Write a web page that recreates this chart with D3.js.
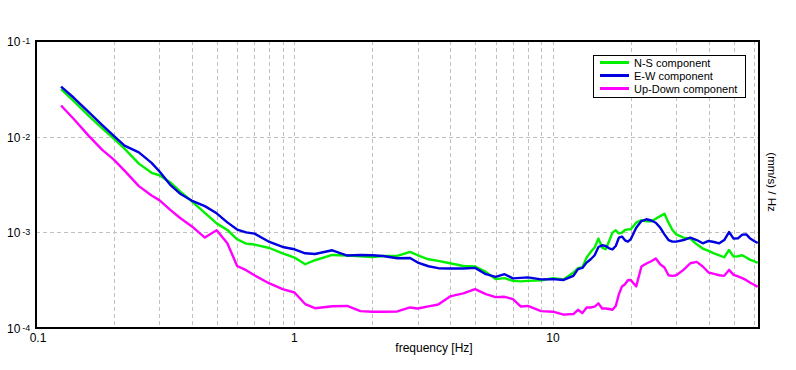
<!DOCTYPE html>
<html>
<head>
<meta charset="utf-8">
<script src="https://cdn.jsdelivr.net/npm/d3@7"></script>
<style>
  html, body { margin: 0; padding: 0; background: #ffffff; }
  svg { display: block; font-family: "Liberation Sans", Arial, sans-serif; }
</style>
</head>
<body>
<svg id="chart" width="796" height="370"></svg>
<script>
// ---- data ----
const freqs = [0.125, 0.14, 0.16, 0.18, 0.2, 0.22, 0.25, 0.28, 0.3, 0.33,
  0.36, 0.4, 0.45, 0.5, 0.55, 0.6, 0.65, 0.7, 0.8, 0.9,
  1.0, 1.1, 1.2, 1.4, 1.6, 1.8, 2.0, 2.2, 2.5, 2.8,
  3.0, 3.3, 3.6, 4.0, 4.5, 5.0, 5.5, 6.0, 6.5, 7.0,
  7.5, 8.0, 9.0, 10, 11, 12, 12.5, 13, 13.5, 14,
  14.5, 15, 15.5, 16, 16.5, 17, 17.5, 18, 18.5, 19,
  19.5, 20, 21, 22, 23, 24, 25, 26, 27, 28,
  29, 30, 32, 34, 36, 38, 40, 42, 44, 46,
  48, 50, 52, 54, 56, 58, 60, 62];

const nsValues = [0.0314, 0.0235, 0.0165, 0.0123, 0.00953, 0.0075, 0.00523, 0.00419, 0.00395, 0.00334,
  0.00269, 0.00212, 0.0016, 0.00124, 0.00106, 8.46e-4, 7.63e-4, 7.45e-4, 6.86e-4, 6.04e-4,
  5.45e-4, 4.64e-4, 5.11e-4, 5.80e-4, 5.72e-4, 5.62e-4, 5.53e-4, 5.65e-4, 5.66e-4, 6.24e-4,
  5.76e-4, 5.23e-4, 5.03e-4, 4.75e-4, 4.45e-4, 4.39e-4, 3.86e-4, 3.24e-4, 3.32e-4, 3.11e-4,
  3.07e-4, 3.11e-4, 3.15e-4, 3.32e-4, 3.22e-4, 3.80e-4, 4.22e-4, 4.32e-4, 5.45e-4, 6.24e-4,
  6.93e-4, 8.60e-4, 6.93e-4, 6.65e-4, 8.12e-4, 9.93e-4, 1.049e-3, 9.76e-4, 9.93e-4, 1.057e-3,
  1.075e-3, 1.075e-3, 1.262e-3, 1.343e-3, 1.302e-3, 1.302e-3, 1.389e-3, 1.478e-3, 1.566e-3, 1.262e-3,
  1.057e-3, 9.53e-4, 8.81e-4, 8.60e-4, 7.50e-4, 6.76e-4, 6.39e-4, 6.04e-4, 5.76e-4, 5.49e-4,
  6.54e-4, 5.58e-4, 5.62e-4, 5.76e-4, 5.45e-4, 5.15e-4, 4.99e-4, 4.79e-4];

const ewValues = [0.0334, 0.0255, 0.0181, 0.0133, 0.0102, 0.00806, 0.00686, 0.00532, 0.00435, 0.00316,
  0.00255, 0.00215, 0.00188, 0.00158, 0.00127, 0.00107, 0.00100, 9.69e-4, 7.93e-4, 7.03e-4,
  6.65e-4, 6.04e-4, 5.94e-4, 6.49e-4, 5.72e-4, 5.80e-4, 5.76e-4, 5.66e-4, 5.36e-4, 5.40e-4,
  4.83e-4, 4.42e-4, 4.22e-4, 4.19e-4, 4.19e-4, 4.25e-4, 3.65e-4, 3.42e-4, 3.65e-4, 3.30e-4,
  3.34e-4, 3.38e-4, 3.22e-4, 3.24e-4, 3.18e-4, 3.51e-4, 4.12e-4, 4.25e-4, 4.83e-4, 5.23e-4,
  5.76e-4, 7.03e-4, 7.32e-4, 7.20e-4, 6.81e-4, 6.65e-4, 7.20e-4, 8.81e-4, 9.02e-4, 8.25e-4,
  8.00e-4, 8.46e-4, 1.119e-3, 1.31e-3, 1.37e-3, 1.33e-3, 1.26e-3, 1.12e-3, 9.53e-4, 8.31e-4,
  8.00e-4, 8.00e-4, 8.31e-4, 8.81e-4, 8.31e-4, 7.68e-4, 8.12e-4, 7.93e-4, 7.68e-4, 8.31e-4,
  1.007e-3, 8.60e-4, 8.66e-4, 9.46e-4, 9.53e-4, 8.60e-4, 8.12e-4, 7.74e-4];

const udValues = [0.0212, 0.0153, 0.0102, 0.00732, 0.00576, 0.00442, 0.00304, 0.00243, 0.00217, 0.00173,
  0.00142, 0.00116, 8.81e-4, 1.049e-3, 7.68e-4, 4.45e-4, 4.02e-4, 3.56e-4, 2.92e-4, 2.55e-4,
  2.35e-4, 1.78e-4, 1.61e-4, 1.69e-4, 1.70e-4, 1.50e-4, 1.48e-4, 1.48e-4, 1.49e-4, 1.64e-4,
  1.60e-4, 1.68e-4, 1.76e-4, 2.14e-4, 2.30e-4, 2.55e-4, 2.26e-4, 2.10e-4, 2.12e-4, 2.00e-4,
  1.68e-4, 1.70e-4, 1.50e-4, 1.48e-4, 1.38e-4, 1.40e-4, 1.55e-4, 1.43e-4, 1.64e-4, 1.64e-4,
  1.67e-4, 1.81e-4, 1.60e-4, 1.60e-4, 1.58e-4, 1.55e-4, 1.70e-4, 2.26e-4, 2.72e-4, 2.87e-4,
  3.16e-4, 3.18e-4, 2.72e-4, 4.39e-4, 4.72e-4, 4.99e-4, 5.32e-4, 4.64e-4, 4.29e-4, 3.56e-4,
  3.51e-4, 3.56e-4, 4.05e-4, 4.75e-4, 4.91e-4, 4.39e-4, 3.80e-4, 3.68e-4, 3.56e-4, 3.51e-4,
  4.05e-4, 3.59e-4, 3.46e-4, 3.32e-4, 3.16e-4, 2.97e-4, 2.83e-4, 2.69e-4];

const seriesNames = ["N-S component", "E-W component", "Up-Down component"];
const seriesColors = ["#00f000", "#0000e0", "#ff00ff"];

const xTickValues = [0.1, 1, 10];
const xTickLabels = ["0.1", "1", "10"];
const yTickValues = [1e-1, 1e-2, 1e-3, 1e-4];
const yTickExponents = ["-1", "-2", "-3", "-4"];
const xGridValues = [0.2, 0.3, 0.4, 0.5, 0.6, 0.7, 0.8, 0.9, 1, 2, 3, 4, 5, 6, 7, 8, 9, 10, 20, 30, 40, 50, 60];
const yGridValues = [1e-2, 1e-3];

const xLabel = "frequency [Hz]";
const yLabel = "(mm/s) / Hz";

// ---- layout ----
const L = 36, R = 759, T = 41, B = 328;
const svg = d3.select("#chart");

const x = d3.scaleLog().domain([0.1, 62.7]).range([L, R]);
const y = d3.scaleLog().domain([1e-4, 1e-1]).range([B, T]);

svg.append("rect").attr("x", 0).attr("y", 0).attr("width", 796).attr("height", 370).attr("fill", "#fff");

// grid
const grid = svg.append("g").attr("stroke", "#c0c0c0").attr("stroke-width", 1).attr("stroke-dasharray", "4,3");
grid.selectAll("line.vx").data(xGridValues).enter().append("line")
  .attr("x1", d => Math.round(x(d)) + 0.5).attr("x2", d => Math.round(x(d)) + 0.5)
  .attr("y1", T).attr("y2", B);
grid.selectAll("line.hy").data(yGridValues).enter().append("line")
  .attr("x1", L).attr("x2", R)
  .attr("y1", d => Math.round(y(d)) + 0.5).attr("y2", d => Math.round(y(d)) + 0.5);

// clip
svg.append("clipPath").attr("id", "plotclip").append("rect")
  .attr("x", L).attr("y", T).attr("width", R - L).attr("height", B - T);

const seriesValues = [nsValues, ewValues, udValues];
const line = d3.line().x(d => x(d[0])).y(d => y(d[1]));
const plot = svg.append("g").attr("clip-path", "url(#plotclip)");
seriesValues.forEach((vals, i) => {
  plot.append("path")
    .datum(freqs.map((f, k) => [f, vals[k]]))
    .attr("fill", "none")
    .attr("stroke", seriesColors[i])
    .attr("stroke-width", 2.4)
    .attr("stroke-linejoin", "round")
    .attr("d", line);
});

// frame
svg.append("rect").attr("x", L).attr("y", T).attr("width", R - L).attr("height", B - T)
  .attr("fill", "none").attr("stroke", "#000").attr("stroke-width", 2);

// y tick labels
const yt = svg.append("g").attr("font-size", 12).attr("fill", "#000");
yTickValues.forEach((v, i) => {
  const t = yt.append("text").attr("x", 7).attr("y", y(v) + 5);
  t.append("tspan").text("10");
  t.append("tspan").attr("dx", 2).attr("dy", -2).attr("font-size", 9).text(yTickExponents[i]);
});

// x tick labels
svg.append("g").selectAll("text").data(xTickValues).enter().append("text")
  .attr("x", (d, i) => x(d) + (i === 0 ? 2 : 0)).attr("y", 342)
  .attr("text-anchor", "middle").attr("font-size", 12).attr("fill", "#000")
  .text((d, i) => xTickLabels[i]);

// axis titles
svg.append("text").attr("x", 434).attr("y", 352).attr("text-anchor", "middle")
  .attr("font-size", 12).attr("fill", "#000").text(xLabel);
svg.append("text").attr("transform", "translate(768,182) rotate(90)")
  .attr("text-anchor", "middle").attr("font-size", 11.5).attr("fill", "#000").text(yLabel);

// legend
const lg = svg.append("g");
lg.append("rect").attr("x", 593.5).attr("y", 55.5).attr("width", 152).attr("height", 42)
  .attr("fill", "#fff").attr("stroke", "#000").attr("stroke-width", 1);
seriesNames.forEach((name, i) => {
  const ly = 62.5 + i * 13;
  lg.append("line").attr("x1", 600).attr("x2", 629).attr("y1", ly).attr("y2", ly)
    .attr("stroke", seriesColors[i]).attr("stroke-width", 3);
  lg.append("text").attr("x", 634).attr("y", ly + 4).attr("font-size", 11).attr("fill", "#000").text(name);
});
</script>
</body>
</html>
